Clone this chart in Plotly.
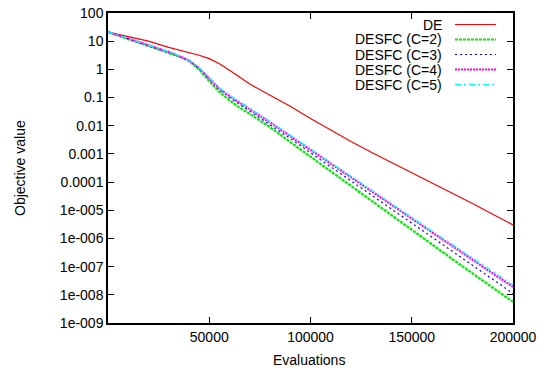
import plotly.graph_objects as go

# Evaluations (x) and log10(objective value)
evals = [0, 10000, 20000, 30000, 35000, 40000, 45000, 50000, 55000, 60000, 65000,
         70000, 80000, 90000, 100000, 110000, 120000, 130000, 140000, 150000,
         160000, 170000, 180000, 190000, 200000]

de_log10 = [1.32, 1.17, 1.00, 0.78, 0.69, 0.60, 0.50, 0.38, 0.20, -0.03, -0.28,
            -0.52, -0.92, -1.31, -1.74, -2.16, -2.56, -2.94, -3.30, -3.66,
            -4.02, -4.39, -4.76, -5.14, -5.52]
c2_log10 = [1.32, 1.08, 0.83, 0.60, 0.46, 0.30, 0.00, -0.42, -0.80, -1.10, -1.36,
            -1.58, -2.05, -2.58, -3.10, -3.62, -4.15, -4.68, -5.20, -5.72,
            -6.22, -6.73, -7.24, -7.75, -8.25]
c3_log10 = [1.33, 1.09, 0.84, 0.61, 0.47, 0.31, 0.03, -0.35, -0.72, -1.00, -1.24,
            -1.48, -1.95, -2.45, -2.96, -3.46, -3.96, -4.46, -4.96, -5.46,
            -5.96, -6.45, -6.95, -7.45, -7.95]
c4_log10 = [1.33, 1.10, 0.85, 0.62, 0.47, 0.32, 0.04, -0.33, -0.68, -0.95, -1.18,
            -1.41, -1.88, -2.37, -2.86, -3.35, -3.84, -4.33, -4.82, -5.31,
            -5.80, -6.28, -6.76, -7.24, -7.72]
c5_log10 = [1.33, 1.10, 0.85, 0.62, 0.48, 0.33, 0.05, -0.30, -0.66, -0.92, -1.15,
            -1.38, -1.85, -2.34, -2.83, -3.32, -3.81, -4.30, -4.78, -5.26,
            -5.74, -6.22, -6.70, -7.18, -7.66]

series_names = ["DE", "DESFC (C=2)", "DESFC (C=3)", "DESFC (C=4)", "DESFC (C=5)"]
series_logs = [de_log10, c2_log10, c3_log10, c4_log10, c5_log10]
colors = ["#ff0000", "#00ee00", "#0000ff", "#ff00ff", "#00ffff"]
dashes = ["solid", "3px,1px", "2px,3px", "2px,1px", "6px,3px,2px,3px"]
widths = [1.2, 2.2, 1.2, 2.2, 1.4]

ytick_vals = [100, 10, 1, 0.1, 0.01, 0.001, 0.0001, 1e-5, 1e-6, 1e-7, 1e-8, 1e-9]
ytick_text = ["100", "10", "1", "0.1", "0.01", "0.001", "0.0001", "1e-005",
              "1e-006", "1e-007", "1e-008", "1e-009"]
xtick_vals = [50000, 100000, 150000, 200000]

FONT = "Liberation Sans"
fig = go.Figure()
for name, lg, col, d, w in zip(series_names, series_logs, colors, dashes, widths):
    fig.add_trace(go.Scatter(x=evals, y=[10 ** v for v in lg], mode="lines", name=name,
                             line=dict(color=col, dash=d, width=w), showlegend=False))

# The page body adds an 8px offset; lay out in screen pixels and compensate.
OFF = 8
W, H = 553, 372
PL, PR, PT, PB = 108, 513, 13, 323   # plot box in screen pixels
L, T = PL - OFF, PT - OFF
pw, ph = PR - PL, PB - PT
R, B = W - L - pw, H - T - ph
def px(x):
    return (x - PL) / pw
def py(y):
    return 1 - (y - PT) / ph

rows = [24.5, 39.5, 54.5, 69.5, 84.5]
for name, col, d, w, yy in zip(series_names, colors, dashes, widths, rows):
    fig.add_annotation(x=px(444), y=py(yy), xref="paper", yref="paper", text=name,
                       showarrow=False, xanchor="right", yanchor="middle",
                       font=dict(family=FONT, size=14, color="black"))
    fig.add_shape(type="line", xref="paper", yref="paper", x0=px(455), x1=px(496),
                  y0=py(yy), y1=py(yy), line=dict(color=col, dash=d, width=w))

# axis titles as paper annotations (gnuplot placement)
fig.add_annotation(x=px(309), y=py(360), xref="paper", yref="paper", text="Evaluations",
                   showarrow=False, xanchor="center", yanchor="middle",
                   font=dict(family=FONT, size=14, color="black"))
fig.add_annotation(x=px(20), y=py(168), xref="paper", yref="paper", text="Objective value",
                   showarrow=False, xanchor="center", yanchor="middle", textangle=-90,
                   font=dict(family=FONT, size=14, color="black"))

fig.update_layout(
    width=W, height=H, margin=dict(l=L, r=R, t=T, b=B, autoexpand=False),
    paper_bgcolor="white", plot_bgcolor="white",
    font=dict(family=FONT, size=14, color="black"),
)
fig.update_xaxes(range=[0, 200000], tickvals=xtick_vals, ticktext=[str(v) for v in xtick_vals],
                 ticks="inside", ticklen=6, tickcolor="black", mirror="allticks", automargin=False,
                 showline=True, linecolor="black", linewidth=1.5, showgrid=False, zeroline=False)
fig.update_yaxes(type="log", range=[-9, 2], tickvals=ytick_vals, ticktext=ytick_text,
                 ticks="inside", ticklen=6, tickcolor="black", mirror="allticks", automargin=False,
                 ticklabeloverflow="allow",
                 showline=True, linecolor="black", linewidth=1.5, showgrid=False, zeroline=False)
fig.write_html("out.html")
